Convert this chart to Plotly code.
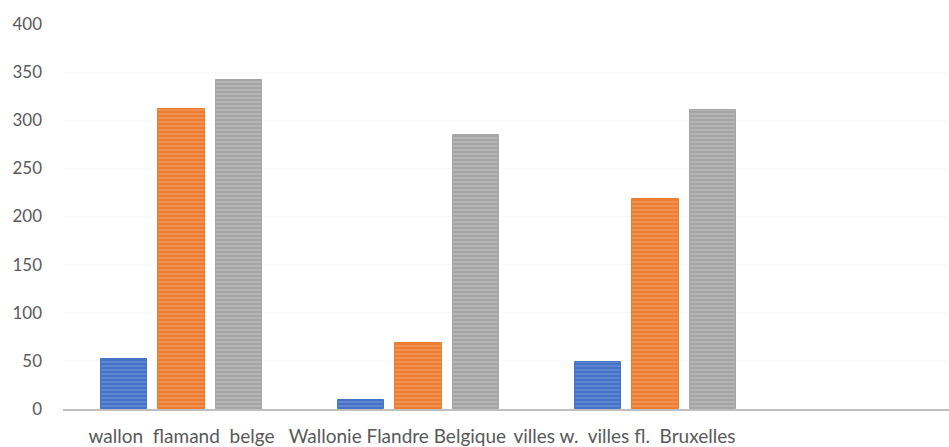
import plotly.graph_objects as go

# Three comparison groups, three series each (fourth slot left empty)
group_labels = [
    ["wallon", "flamand", "belge"],
    ["Wallonie", "Flandre", "Belgique"],
    ["villes w.", "villes fl.", "Bruxelles"],
]
values_blue = [52, 9, 49]
values_orange = [312, 69, 218]
values_gray = [342, 285, 311]

series = [
    (values_blue, "#4472C4", "#8fa9dc"),
    (values_orange, "#ED7D31", "#f5b58a"),
    (values_gray, "#A5A5A5", "#d2d2d2"),
]

slot = 0.2426      # distance between bar centres, in group units
bar_w = 0.198      # bar width, in group units
label_shift = [0.0, -0.089, -0.131]   # horizontal nudge of each group caption
word_gap = [2, 1, 2]                  # spaces between the words of each caption

fig = go.Figure()
for j, (vals, base, light) in enumerate(series):
    xs = [g + (j - 1) * slot for g in range(len(vals))]
    fig.add_trace(go.Bar(
        x=xs, y=vals, width=bar_w,
        marker=dict(
            color=base,
            line=dict(color=base, width=1),
            pattern=dict(shape="-", fgcolor=light, bgcolor=base,
                         size=4, solidity=0.35, fillmode="overlay"),
        ),
        showlegend=False,
    ))

tickvals = [g + label_shift[g] for g in range(len(group_labels))]
ticktext = [("\u00a0" * word_gap[g]).join(words) for g, words in enumerate(group_labels)]

font_family = "Lato, 'Open Sans', sans-serif"
fig.update_layout(
    width=949, height=447,
    margin=dict(l=63, r=0, t=24, b=36),
    paper_bgcolor="white", plot_bgcolor="white",
    font=dict(family=font_family, size=17, color="#595959"),
    bargap=0,
)
fig.update_xaxes(
    range=[-0.5, -0.5 + 886 / 237],
    tickvals=tickvals, ticktext=ticktext, tickangle=0,
    showgrid=False, zeroline=False,
    showline=True, linecolor="#bfbfbf", linewidth=2,
    ticks="", ticklabelstandoff=9,
    tickfont=dict(size=19, color="#595959"),
)
fig.update_yaxes(
    range=[0, 400], dtick=50,
    showgrid=True, gridcolor="#f9f9f9",
    zeroline=False, showline=False,
    ticks="", ticklabelstandoff=20,
    tickfont=dict(size=17, color="#595959"),
)

fig.write_html("out.html")
